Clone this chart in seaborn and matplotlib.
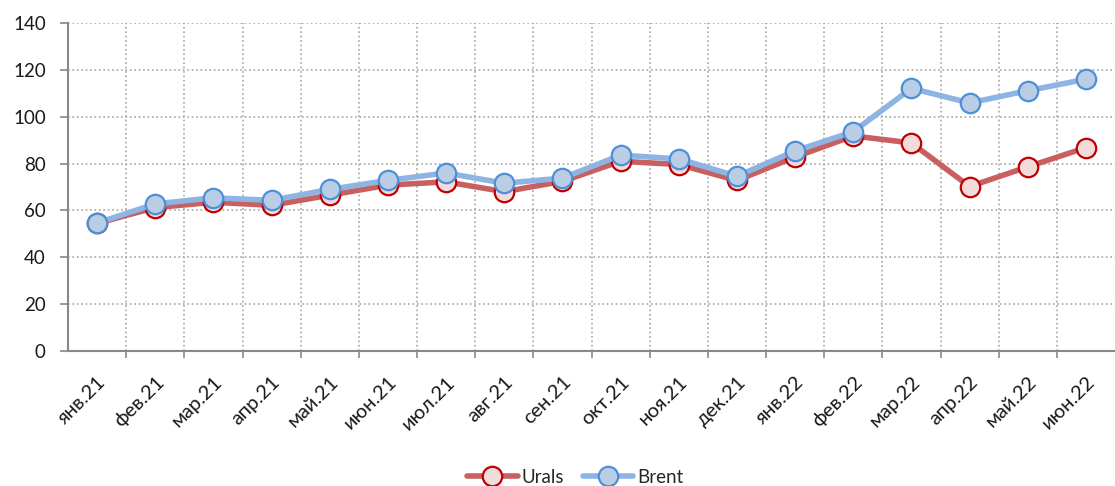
import pandas as pd
import matplotlib
matplotlib.use("Agg")
import matplotlib.pyplot as plt
from matplotlib.ticker import FixedLocator
import seaborn as sns

# data
months = ['янв.21', 'фев.21', 'мар.21', 'апр.21', 'май.21', 'июн.21',
          'июл.21', 'авг.21', 'сен.21', 'окт.21', 'ноя.21', 'дек.21',
          'янв.22', 'фев.22', 'мар.22', 'апр.22', 'май.22', 'июн.22']
urals = [54.5, 61.2, 63.5, 62.2, 66.5, 70.8, 72.2, 68.0, 72.4, 81.0, 79.6, 72.8,
         82.8, 91.8, 88.8, 70.2, 78.6, 86.8]
brent = [54.6, 62.8, 65.4, 64.3, 69.0, 72.8, 76.0, 71.6, 73.8, 83.6, 82.0, 74.6,
         85.4, 93.6, 112.1, 105.9, 111.1, 116.0]
y_ticks = [0, 20, 40, 60, 80, 100, 120, 140]

df = pd.DataFrame({'month': months, 'Urals': urals, 'Brent': brent})
df['pos'] = range(len(months))

sns.set_theme(style="white")
plt.rcParams['font.family'] = ['Lato', 'DejaVu Sans']

fig = plt.figure(figsize=(11.15, 4.86), dpi=100)
ax = fig.add_axes([68 / 1115, 1 - 351 / 486, 1 - 68 / 1115, (351 - 23) / 486])

sns.lineplot(data=df, x='pos', y='Urals', ax=ax, label='Urals',
             color='#C86060', lw=4, marker='o', markersize=14,
             markerfacecolor='#F2DCDB', markeredgecolor='#C00000',
             markeredgewidth=1.6, zorder=3)
sns.lineplot(data=df, x='pos', y='Brent', ax=ax, label='Brent',
             color='#8DB4E3', lw=4, marker='o', markersize=14,
             markerfacecolor='#B9CDE5', markeredgecolor='#4F8FD8',
             markeredgewidth=1.6, zorder=4)

ax.set_xlim(-0.5, len(months) - 0.5)
ax.set_ylim(0, 140)
ax.set_yticks(y_ticks)
ax.set_xticks(df['pos'])
ax.set_xticklabels(months, rotation=45, ha='right', rotation_mode='anchor')
ax.xaxis.set_minor_locator(FixedLocator([i + 0.5 for i in range(len(months) - 1)]))

ax.grid(axis='y', which='major', color='#A6A6A6', ls=':', lw=1.2)
ax.grid(axis='x', which='minor', color='#A6A6A6', ls=':', lw=1.2)
ax.tick_params(axis='x', which='major', length=0, pad=16, labelsize=14.5, labelcolor='#1a1a1a')
ax.tick_params(axis='x', which='minor', length=5, width=1.2, color='#888888', bottom=True)
ax.tick_params(axis='y', length=6, width=1.2, color='#888888', left=True, pad=10,
               labelsize=13.5, labelcolor='#1a1a1a')

for side in ['top', 'right']:
    ax.spines[side].set_visible(False)
for side in ['left', 'bottom']:
    ax.spines[side].set_color('#888888')
    ax.spines[side].set_linewidth(1.5)

ax.set_xlabel('')
ax.set_ylabel('')
ax.legend(loc='center', bbox_to_anchor=(575 / 1115, 9 / 486),
          bbox_transform=fig.transFigure, ncol=2, frameon=False,
          fontsize=13.5, handlelength=2.7, columnspacing=1.0, handletextpad=0.2)

fig.savefig('out.png', dpi=100)
